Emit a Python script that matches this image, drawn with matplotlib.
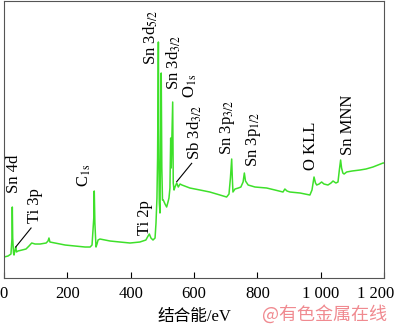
import numpy as np
import matplotlib
matplotlib.use('Agg')
import matplotlib.pyplot as plt
from matplotlib.transforms import ScaledTranslation

plt.rcParams['font.family'] = ['Liberation Serif', 'Noto Sans CJK SC']
plt.rcParams['mathtext.fontset'] = 'stix'

# XPS 全谱数据（结合能 eV，强度 a.u.）
energy = [0, 12.6, 22, 25.3, 26.2, 27.5, 30, 31.6, 34.7, 37, 39.5, 44, 57, 69.5, 79,
          87.5, 98, 114, 133, 139, 142, 145, 161, 193, 224, 256, 272, 278, 283.5,
          285, 287, 290.5, 293.7, 297, 303, 335, 366, 398, 429, 448, 455, 459, 464,
          470.5, 477, 480, 483, 485, 487.5, 489, 490.5, 492.5, 495, 496.5, 498.4,
          500.5, 503, 508.5, 513.6, 517.9, 521, 524, 526.4, 528, 532.7, 534.5, 537,
          540, 545.4, 550.4, 556, 562, 587, 619, 650, 682, 703, 710.5, 715, 719,
          721, 723, 729.5, 740, 748, 755, 759, 762.6, 771, 792.6, 829.5, 855.8,
          881, 887, 893.7, 903, 935, 966, 972.6, 979, 983.7, 987.5, 995, 1003,
          1010.5, 1023, 1032.6, 1039, 1048, 1054.7, 1059, 1063, 1066, 1070, 1074,
          1082, 1099, 1124, 1143, 1165, 1181, 1197, 1200]
intensity = [21, 22, 24, 40, 71, 40, 25, 23, 28, 31, 26, 27, 28, 29, 32,
             35, 34, 34, 35, 37, 40, 36, 35, 33, 32, 31, 31, 33, 60,
             87, 55, 31, 34, 38, 39, 37, 36, 35, 36, 38, 42, 44, 40,
             38, 40, 55, 80, 120, 236, 120, 75, 65, 150, 205, 110,
             78, 78, 74, 71, 76, 80, 90, 140, 110, 176, 95, 88,
             91, 95, 91, 94, 93, 90, 88, 86, 83, 81, 84, 100, 119,
             100, 86, 89, 90, 91, 96, 105, 97, 93, 91, 90, 88,
             86, 89, 87, 86, 85, 83, 88, 101, 95, 93, 94, 96,
             94, 93, 95, 97, 95, 96, 108, 118, 110, 105, 104,
             106, 107, 108, 109, 111, 113, 115, 115]

# 峰标注：文字、位置(eV)、底部高度
peak_labels = [r'Sn 4d', r'Ti 3p', r'C$_{\mathrm{1s}}$', r'Ti 2p',
               r'Sn 3d$_{\mathrm{5/2}}$', r'Sn 3d$_{\mathrm{3/2}}$', r'O$_{\mathrm{1s}}$',
               r'Sb 3d$_{\mathrm{3/2}}$', r'Sn 3p$_{\mathrm{3/2}}$', r'Sn 3p$_{\mathrm{1/2}}$',
               r'O KLL', r'Sn MNN']
label_x = [31.6, 98, 254, 444, 464, 535, 587, 601.6, 706, 789, 968, 1085]
label_y = [85, 55, 91, 43, 213, 188, 180, 118, 123, 111, 108, 123]

xticks = [0, 200, 400, 600, 800, 1000, 1200]
xtick_labels = ['0', '200', '400', '600', '800', '1 000', '1 200']

fig = plt.figure(figsize=(4.0, 3.26), dpi=100)
ax = fig.add_axes([0.01, 0.1472, 0.95, 0.8497])

ax.plot(energy, intensity, color='#3ee02a', lw=1.1)

for txt, x, y in zip(peak_labels, label_x, label_y):
    ax.text(x, y, txt, rotation=90, ha='center', va='bottom', fontsize=12)

# 引线
ax.plot([37, 85.5], [31, 50], color='black', lw=0.8)
ax.plot([545.4, 592.7], [96.3, 114.7], color='black', lw=0.8)

ax.set_xlim(0, 1200)
ax.set_ylim(0, 277)
ax.set_xticks(xticks)
ax.set_xticklabels(xtick_labels, fontsize=12)
ax.set_yticks([])
ax.tick_params(axis='x', direction='in', length=4, width=0.8, pad=6, colors='black')
for s in ax.spines.values():
    s.set_color('#555555')
    s.set_linewidth(0.8)

# 最后一个刻度标签略向左移，避免超出图边
last = ax.get_xticklabels()[-1]
last.set_transform(last.get_transform() + ScaledTranslation(-8 / 100, 0, fig.dpi_scale_trans))

ax.set_xlabel('结合能/eV', fontsize=12, labelpad=5)

fig.text(0.655, 0.035, '@有色金属在线', color='#f08a90', fontsize=13,
         family='Noto Sans CJK SC', ha='left', va='center')

fig.savefig('out.png', dpi=100)
